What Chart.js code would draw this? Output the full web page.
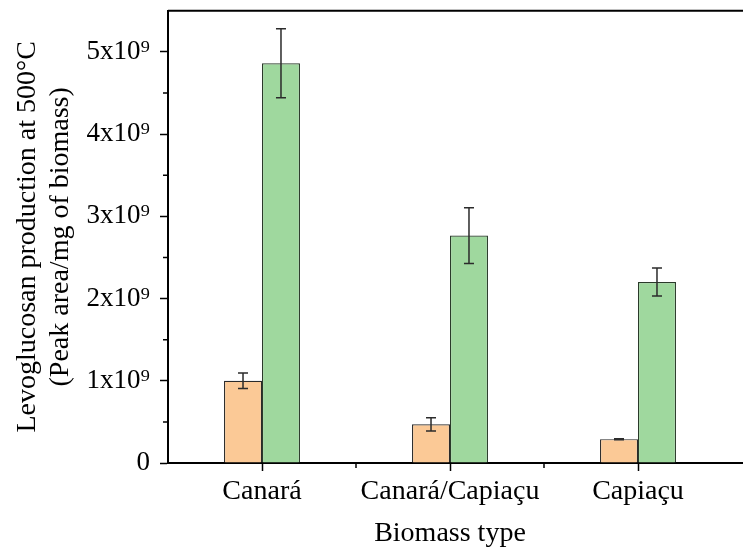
<!DOCTYPE html>
<html>
<head>
<meta charset="utf-8">
<script src="https://cdn.jsdelivr.net/npm/chart.js@4.4.1/dist/chart.umd.min.js"></script>
<style>
	html, body { margin: 0; padding: 0; background: #fff; overflow: hidden; }
	#wrap { width: 743px; height: 550px; }
</style>
</head>
<body>
<div id="wrap"><canvas id="main-chart"></canvas></div>
<script>
// data
var categories = ['Canará', 'Canará/Capiaçu', 'Capiaçu'];
var lowValues = [1.00e9, 0.47e9, 0.29e9];
var lowErrors = [0.094e9, 0.08e9, 0.006e9];
var highValues = [4.86e9, 2.765e9, 2.20e9];
var highErrors = [0.42e9, 0.34e9, 0.17e9];
var yTicks = [0, 1e9, 2e9, 3e9, 4e9, 5e9];

var serif = "'Liberation Serif', 'Times New Roman', serif";
var sup = ['⁰','¹','²','³','⁴','⁵','⁶','⁷','⁸','⁹'];

function tickLabel(v) {
	if (v === 0) return '0';
	return Math.round(v / 1e9) + 'x10' + sup[9];
}

// error bars, minor ticks and the top frame line
var extras = {
	id: 'extras',
	afterDatasetsDraw(chart) {
		var ctx = chart.ctx;
		var y = chart.scales.y;
		var errs = [lowErrors, highErrors];
		ctx.save();
		ctx.strokeStyle = '#2b2b2b';
		ctx.lineWidth = 1.5;
		chart.data.datasets.forEach(function(ds, i) {
			var meta = chart.getDatasetMeta(i);
			meta.data.forEach(function(bar, j) {
				var v = ds.data[j];
				var e = errs[i][j];
				var top = y.getPixelForValue(v + e);
				var bot = y.getPixelForValue(v - e);
				ctx.beginPath();
				ctx.moveTo(bar.x, top); ctx.lineTo(bar.x, bot);
				ctx.moveTo(bar.x - 5, top); ctx.lineTo(bar.x + 5, top);
				ctx.moveTo(bar.x - 5, bot); ctx.lineTo(bar.x + 5, bot);
				ctx.stroke();
			});
		});
		ctx.restore();
	},
	afterDraw(chart) {
		var ctx = chart.ctx;
		var a = chart.chartArea;
		var y = chart.scales.y;
		var x = chart.scales.x;
		ctx.save();
		ctx.strokeStyle = '#000';
		ctx.lineWidth = 2;
		ctx.beginPath();
		ctx.moveTo(a.left, a.top); ctx.lineTo(chart.width, a.top);
		ctx.moveTo(a.right - 1, a.bottom); ctx.lineTo(chart.width, a.bottom);
		ctx.stroke();
		ctx.lineWidth = 1.5;
		ctx.beginPath();
		for (var k = 0; k < 5; k++) {
			var py = y.getPixelForValue((k + 0.5) * 1e9);
			ctx.moveTo(a.left - 5, py); ctx.lineTo(a.left, py);
		}
		for (var c = 0; c < categories.length - 1; c++) {
			var px = (x.getPixelForValue(c) + x.getPixelForValue(c + 1)) / 2;
			ctx.moveTo(px, a.bottom); ctx.lineTo(px, a.bottom + 5);
		}
		ctx.stroke();
		ctx.restore();
	}
};

new Chart(document.getElementById('main-chart'), {
	type: 'bar',
	data: {
		labels: categories,
		datasets: [
			{
				label: 'low',
				data: lowValues,
				backgroundColor: '#fbc996',
				borderColor: '#2a2a2a',
				borderWidth: 1.2,
				categoryPercentage: 0.404,
				barPercentage: 1.0
			},
			{
				label: 'high',
				data: highValues,
				backgroundColor: '#9fd89e',
				borderColor: '#2a3a2a',
				borderWidth: 1.2,
				categoryPercentage: 0.404,
				barPercentage: 1.0
			}
		]
	},
	options: {
		responsive: true,
		maintainAspectRatio: false,
		animation: false,
		layout: { padding: { top: 0, right: 11, left: 0, bottom: 0 } },
		plugins: {
			legend: { display: false },
			tooltip: { enabled: false }
		},
		scales: {
			x: {
				grid: {
					offset: false,
					drawOnChartArea: false,
					tickLength: 8,
					tickColor: '#000',
					tickWidth: 1.5
				},
				border: { color: '#000', width: 2 },
				ticks: {
					color: '#000',
					font: { family: serif, size: 28 },
					padding: 4,
					maxRotation: 0
				},
				title: {
					display: true,
					text: 'Biomass type',
					color: '#000',
					font: { family: serif, size: 28 },
					padding: { top: 0, bottom: 0 }
				},
				afterFit(scale) { scale.height = 87; }
			},
			y: {
				min: 0,
				max: 5.5e9,
				afterBuildTicks(scale) {
					scale.ticks = yTicks.map(function(v) { return { value: v }; });
				},
				grid: {
					drawOnChartArea: false,
					tickLength: 8,
					tickColor: '#000',
					tickWidth: 1.5
				},
				border: { color: '#000', width: 2 },
				ticks: {
					color: '#000',
					font: { family: serif, size: 27, lineHeight: 0.05 },
					padding: 10,
					callback: function(v) { return tickLabel(v); }
				},
				title: {
					display: true,
					text: ['Levoglucosan production at 500°C', '(Peak area/mg of biomass)'],
					color: '#000',
					font: { family: serif, size: 28, lineHeight: 1.15 },
					padding: { top: 12, bottom: 0 }
				},
				afterFit(scale) { scale.width = 168; }
			}
		}
	},
	plugins: [extras]
});
</script>
</body>
</html>
